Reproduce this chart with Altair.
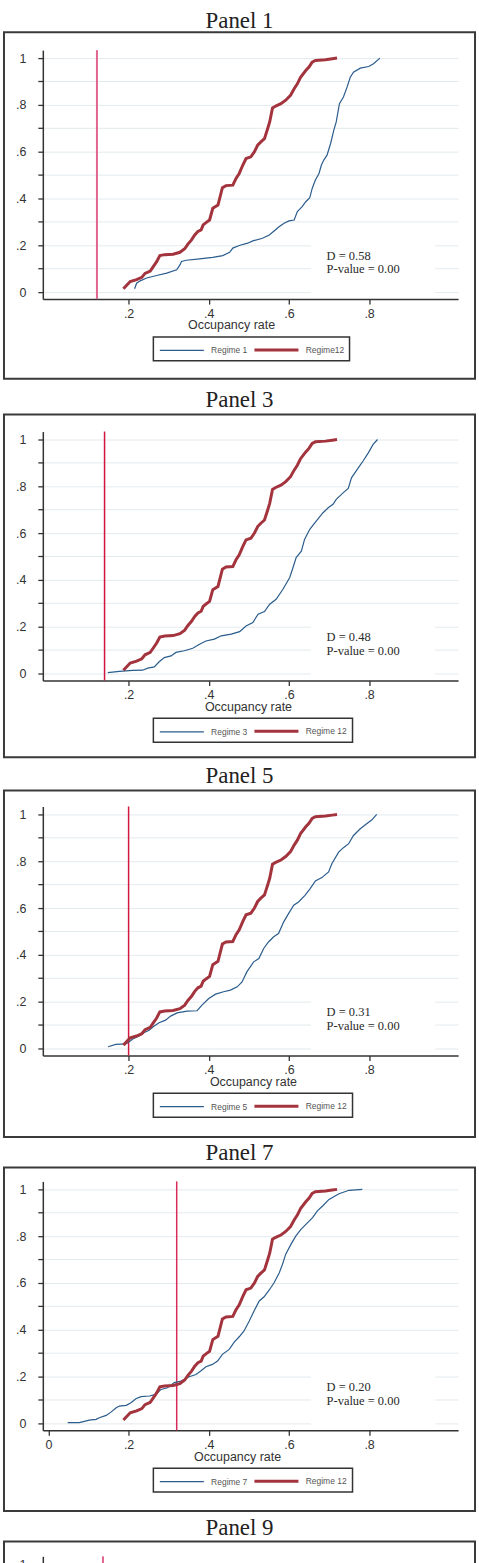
import altair as alt
import pandas as pd

# ---------------------------------------------------------------------------
# Empirical CDFs of the occupancy rate (x = occupancy rate, y = cumulative share)
# ---------------------------------------------------------------------------

# Regime 12 (comparison group, identical in every panel)
r12_x = [0.187, 0.204, 0.220, 0.233, 0.241, 0.254, 0.262, 0.270, 0.278, 0.290,
         0.311, 0.328, 0.340, 0.348, 0.357, 0.365, 0.373, 0.381, 0.386, 0.394,
         0.402, 0.410, 0.423, 0.434, 0.443, 0.460, 0.468, 0.476, 0.485, 0.493,
         0.505, 0.514, 0.522, 0.530, 0.539, 0.547, 0.552, 0.559, 0.567, 0.580,
         0.592, 0.604, 0.613, 0.621, 0.629, 0.642, 0.650, 0.658, 0.666, 0.691,
         0.708, 0.720]
r12_y = [0.014, 0.045, 0.053, 0.063, 0.080, 0.090, 0.110, 0.130, 0.156, 0.160,
         0.162, 0.170, 0.185, 0.205, 0.223, 0.244, 0.259, 0.266, 0.287, 0.298,
         0.308, 0.358, 0.372, 0.446, 0.455, 0.457, 0.486, 0.507, 0.543, 0.571,
         0.578, 0.600, 0.628, 0.642, 0.656, 0.699, 0.727, 0.787, 0.795, 0.805,
         0.820, 0.841, 0.869, 0.890, 0.918, 0.947, 0.962, 0.983, 0.990, 0.993,
         0.997, 1.000]

# Regime 1
r1_x = [0.215, 0.220, 0.229, 0.245, 0.270, 0.295, 0.320, 0.328, 0.332, 0.344,
        0.377, 0.410, 0.435, 0.452, 0.460, 0.476, 0.497, 0.510, 0.534, 0.551,
        0.563, 0.576, 0.588, 0.600, 0.613, 0.621, 0.633, 0.642, 0.652, 0.658,
        0.666, 0.675, 0.681, 0.687, 0.695, 0.704, 0.712, 0.718, 0.726, 0.736,
        0.745, 0.753, 0.761, 0.778, 0.799, 0.811, 0.827]
r1_y = [0.014, 0.038, 0.048, 0.060, 0.071, 0.081, 0.095, 0.116, 0.131, 0.136,
        0.142, 0.148, 0.156, 0.170, 0.188, 0.199, 0.209, 0.219, 0.230, 0.244,
        0.261, 0.280, 0.294, 0.304, 0.308, 0.344, 0.365, 0.386, 0.403, 0.443,
        0.479, 0.507, 0.543, 0.564, 0.585, 0.635, 0.692, 0.727, 0.805, 0.834,
        0.876, 0.918, 0.940, 0.957, 0.964, 0.976, 1.000]

# Regime 3
r3_x = [0.148, 0.177, 0.210, 0.235, 0.248, 0.264, 0.277, 0.289, 0.306, 0.318,
        0.339, 0.360, 0.377, 0.393, 0.414, 0.431, 0.456, 0.477, 0.493, 0.510,
        0.523, 0.539, 0.552, 0.568, 0.585, 0.602, 0.610, 0.618, 0.631, 0.639,
        0.652, 0.668, 0.685, 0.698, 0.710, 0.718, 0.735, 0.748, 0.756, 0.773,
        0.785, 0.798, 0.810, 0.821]
r3_y = [0.004, 0.009, 0.013, 0.014, 0.023, 0.028, 0.051, 0.068, 0.075, 0.090,
        0.097, 0.108, 0.125, 0.139, 0.147, 0.161, 0.168, 0.179, 0.203, 0.218,
        0.253, 0.265, 0.296, 0.317, 0.360, 0.410, 0.452, 0.495, 0.523, 0.573,
        0.616, 0.651, 0.687, 0.708, 0.723, 0.744, 0.772, 0.791, 0.836, 0.879,
        0.908, 0.943, 0.979, 1.000]

# Regime 5
r5_x = [0.149, 0.168, 0.193, 0.205, 0.213, 0.226, 0.238, 0.251, 0.263, 0.276,
        0.292, 0.305, 0.321, 0.346, 0.371, 0.383, 0.400, 0.417, 0.437, 0.454,
        0.471, 0.483, 0.495, 0.512, 0.525, 0.537, 0.549, 0.562, 0.574, 0.587,
        0.599, 0.612, 0.624, 0.640, 0.653, 0.666, 0.682, 0.699, 0.707, 0.724,
        0.736, 0.749, 0.761, 0.778, 0.794, 0.807, 0.819]
r5_y = [0.007, 0.017, 0.019, 0.033, 0.043, 0.053, 0.067, 0.078, 0.095, 0.110,
        0.121, 0.138, 0.152, 0.159, 0.161, 0.185, 0.213, 0.232, 0.242, 0.249,
        0.263, 0.284, 0.327, 0.370, 0.384, 0.427, 0.455, 0.477, 0.491, 0.541,
        0.576, 0.612, 0.626, 0.654, 0.683, 0.716, 0.730, 0.754, 0.789, 0.839,
        0.858, 0.875, 0.910, 0.939, 0.960, 0.977, 1.000]

# Regime 7
r7_x = [0.048, 0.077, 0.102, 0.119, 0.127, 0.144, 0.156, 0.169, 0.177, 0.194,
        0.206, 0.218, 0.231, 0.252, 0.268, 0.281, 0.297, 0.314, 0.331, 0.351,
        0.368, 0.380, 0.393, 0.409, 0.422, 0.434, 0.451, 0.464, 0.476, 0.488,
        0.501, 0.513, 0.526, 0.538, 0.551, 0.563, 0.576, 0.584, 0.592, 0.605,
        0.617, 0.630, 0.646, 0.659, 0.671, 0.684, 0.700, 0.725, 0.750, 0.783]
r7_y = [0.003, 0.003, 0.014, 0.017, 0.024, 0.034, 0.048, 0.067, 0.074, 0.077,
        0.088, 0.105, 0.114, 0.117, 0.124, 0.145, 0.152, 0.174, 0.181, 0.199,
        0.209, 0.224, 0.242, 0.252, 0.266, 0.295, 0.316, 0.348, 0.370, 0.395,
        0.437, 0.480, 0.523, 0.541, 0.570, 0.601, 0.644, 0.680, 0.723, 0.765,
        0.800, 0.829, 0.857, 0.879, 0.908, 0.929, 0.957, 0.981, 0.996, 1.000]

# Per-panel settings
panel_titles = ["Panel 1", "Panel 3", "Panel 5", "Panel 7"]
regime_x = [r1_x, r3_x, r5_x, r7_x]
regime_y = [r1_y, r3_y, r5_y, r7_y]
legend_labels = [["Regime 1", "Regime12"], ["Regime 3", "Regime 12"],
                 ["Regime 5", "Regime 12"], ["Regime 7", "Regime 12"]]
cutoffs = [0.121, 0.140, 0.200, 0.320]
cutoff_colors = ["#e0668e", "#d0143f", "#d3183f", "#d82a58"]
cutoff_widths = [2.0, 1.5, 1.5, 1.5]
ks_d = ["0.58", "0.48", "0.31", "0.20"]
ks_p = ["0.00", "0.00", "0.00", "0.00"]
x_tick_values = [[0.2, 0.4, 0.6, 0.8], [0.2, 0.4, 0.6, 0.8],
                 [0.2, 0.4, 0.6, 0.8], [0.0, 0.2, 0.4, 0.6, 0.8]]
x_title_pos = [189, 206, 211, 195]
frame_tops = [-18, -17, -16, -14]
frame_bottoms = [330, 327, 332, 331]
title_offsets = [-20, -16, -16, -16]

panel9_title = "Panel 9"
panel9_cutoff = 0.136
panel9_color = "#e0648e"

y_tick_values = [round(i * 0.1, 1) for i in range(11)]

X_DOMAIN = [-0.014, 1.022]
Y_DOMAIN = [-0.03, 1.034]
W, H = 417, 250
H9 = 40

BLUE = "#2a5c8c"
RED = "#a3333d"
AXIS_GREY = "#333333"
FRAME_GREY = "#3a3a3a"

is_minor = "round(datum.value * 10) % 2 == 1"


def x_scale():
    return alt.Scale(domain=X_DOMAIN, nice=False, zero=False)


def x_enc(field, i):
    return alt.X(
        field, type="quantitative", scale=x_scale(),
        axis=alt.Axis(values=x_tick_values[i], format=".1~f",
                      labelExpr="replace(datum.label, '0.', '.')",
                      title="Occupancy rate", titleX=x_title_pos[i], titleY=30,
                      titleBaseline="alphabetic", tickSize=5, labelPadding=3,
                      grid=False),
    )


def y_axis():
    return alt.Axis(values=y_tick_values, format=".1~f",
                    labelExpr=is_minor + " ? '' : replace(datum.label, '0.', '.')",
                    tickSize=5, labelPadding=12, grid=True, title=None)


def y_enc(field):
    return alt.Y(field, type="quantitative",
                 scale=alt.Scale(domain=Y_DOMAIN, nice=False, zero=False),
                 axis=y_axis())


def panel(i):
    lo, hi = legend_labels[i]
    curves = pd.concat([
        pd.DataFrame({"rate": regime_x[i], "share": regime_y[i], "regime": lo}),
        pd.DataFrame({"rate": r12_x, "share": r12_y, "regime": hi}),
    ], ignore_index=True)

    legend = alt.Legend(title=None, orient="none", legendX=111, legendY=288,
                        direction="horizontal", columns=2)

    # white backing behind the test statistics
    box = alt.Chart(pd.DataFrame({"bx0": [0.655], "bx1": [0.965],
                                  "by0": [-0.012], "by1": [0.212]})).mark_rect(
        color="white").encode(
        x=x_enc("bx0", i), x2="bx1", y=y_enc("by0"), y2="by1")

    stats = alt.Chart(pd.DataFrame({
        "tx": [0.694, 0.694],
        "ty": [0.155, 0.097],
        "label": [f"D = {ks_d[i]}", f"P-value = {ks_p[i]}"],
    })).mark_text(align="left", baseline="middle", font="Liberation Serif",
                  fontSize=12.5, color="#2a2a2a").encode(
        x=x_enc("tx", i), y=y_enc("ty"), text="label:N")

    cut = alt.Chart(pd.DataFrame({"rate": [cutoffs[i]]})).mark_rule(
        color=cutoff_colors[i], strokeWidth=cutoff_widths[i]).encode(
        x=x_enc("rate", i))

    lines = alt.Chart(curves).mark_line(strokeCap="butt").encode(
        x=x_enc("rate", i),
        y=y_enc("share"),
        color=alt.Color("regime:N", scale=alt.Scale(domain=[lo, hi], range=[BLUE, RED]),
                        legend=legend),
        strokeWidth=alt.StrokeWidth("regime:N", scale=alt.Scale(domain=[lo, hi], range=[1.2, 3.0]),
                                    legend=legend),
        order=alt.Order("rate:Q"),
    )

    frame = alt.Chart(pd.DataFrame({"f": [0]})).mark_rect(
        fillOpacity=0, stroke=FRAME_GREY, strokeWidth=2).encode(
        x=alt.value(-39), x2=alt.value(W + 17),
        y=alt.value(frame_tops[i]), y2=alt.value(frame_bottoms[i]))

    return alt.layer(box, stats, cut, lines, frame).properties(
        width=W, height=H,
        title=alt.TitleParams(panel_titles[i], dx=-11, offset=title_offsets[i],
                              baseline="alphabetic"),
    )


def panel_nine():
    # only the top strip of this panel is shown
    y9 = [Y_DOMAIN[1] - H9 * (Y_DOMAIN[1] - Y_DOMAIN[0]) / H, Y_DOMAIN[1]]
    cut = alt.Chart(pd.DataFrame({"rate": [panel9_cutoff], "lo": [y9[0]], "hi": [y9[1]]})).mark_rule(
        color=panel9_color, strokeWidth=2).encode(
        x=alt.X("rate:Q", scale=x_scale(), axis=None),
        y=alt.Y("lo:Q", scale=alt.Scale(domain=y9, nice=False, zero=False),
                axis=alt.Axis(values=[1.0], format=".1~f", tickSize=5, labelPadding=12,
                              grid=True, title=None)),
        y2="hi:Q",
    )
    edges = pd.DataFrame({"e": ["top", "left", "right"]})
    top = alt.Chart(edges.iloc[[0]]).mark_rule(stroke=FRAME_GREY, strokeWidth=2).encode(
        x=alt.value(-40), x2=alt.value(W + 18), y=alt.value(-15), y2=alt.value(-15))
    left = alt.Chart(edges.iloc[[1]]).mark_rule(stroke=FRAME_GREY, strokeWidth=2).encode(
        x=alt.value(-39), x2=alt.value(-39), y=alt.value(-15), y2=alt.value(H9))
    right = alt.Chart(edges.iloc[[2]]).mark_rule(stroke=FRAME_GREY, strokeWidth=2).encode(
        x=alt.value(W + 17), x2=alt.value(W + 17), y=alt.value(-15), y2=alt.value(H9))
    return alt.layer(cut, top, left, right).properties(
        width=W, height=H9,
        title=alt.TitleParams(panel9_title, dx=-11, offset=-18, baseline="alphabetic"),
    )


indep = dict(x="independent", y="independent", color="independent", strokeWidth="independent")

lower = alt.vconcat(panel(1), panel(2), panel(3), panel_nine(),
                    spacing=126.5, bounds="flush").resolve_scale(**indep)

chart = alt.vconcat(panel(0), lower, spacing=133, bounds="flush").resolve_scale(**indep)

chart = chart.properties(
    padding={"left": 2, "top": 7, "right": 2, "bottom": 0},
    background="white",
).configure_view(
    strokeWidth=0,
).configure_axis(
    domainColor=AXIS_GREY, domainWidth=1.5,
    tickColor=AXIS_GREY, tickWidth=1.3,
    labelFont="Liberation Sans", labelFontSize=12.5, labelColor=AXIS_GREY,
    titleFont="Liberation Sans", titleFontSize=12.5, titleFontWeight="normal",
    titleColor=AXIS_GREY,
    gridColor="#e3eaee", gridWidth=1,
).configure_title(
    font="Liberation Serif", fontSize=23, fontWeight="normal", color="#222222",
    anchor="middle",
).configure_legend(
    strokeColor="#333333", strokeWidth=1.5, padding=5,
    labelFont="Liberation Sans", labelFontSize=8.5, labelColor="#555555",
    # a long horizontal stroke drawn inside a small (13 px) symbol slot
    symbolType="M-1,0L5.8,0", symbolSize=169, labelOffset=37, columnPadding=0,
)

chart.save("out.html", embed_options={"renderer": "svg", "actions": False})
